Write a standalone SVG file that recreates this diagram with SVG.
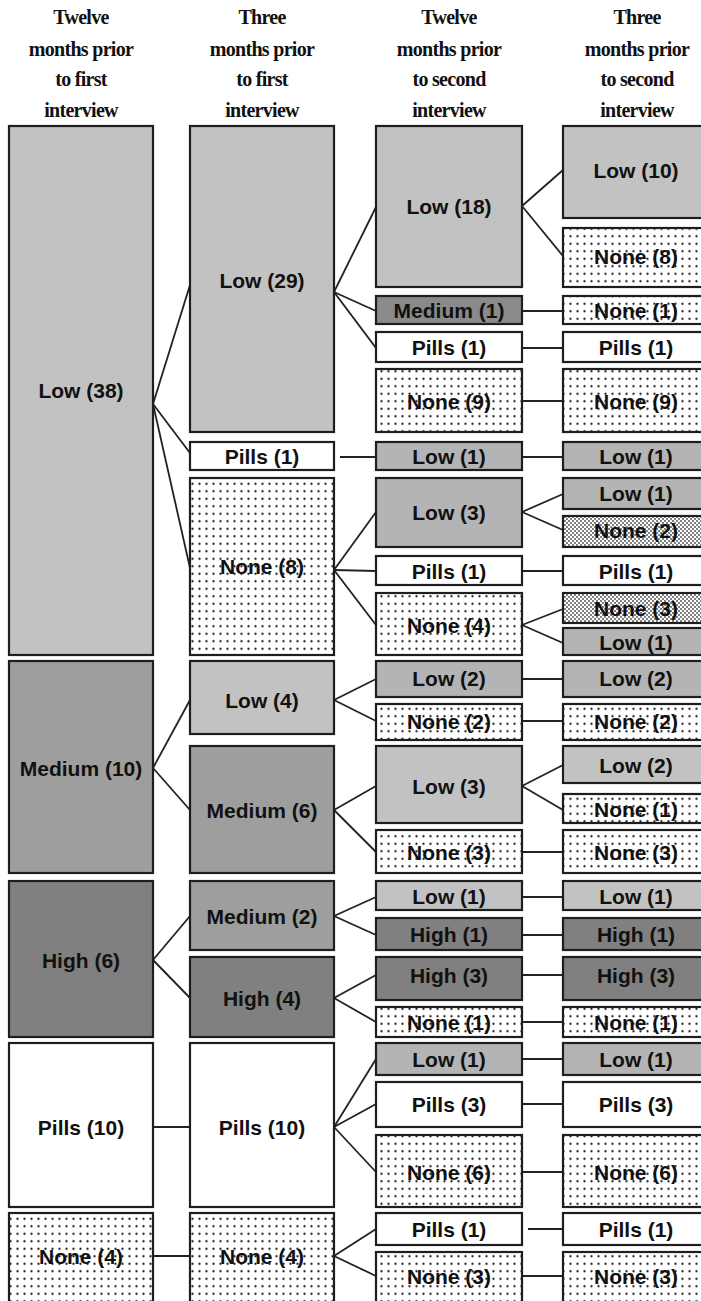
<svg xmlns="http://www.w3.org/2000/svg" width="701" height="1301" viewBox="0 0 701 1301">
  <defs>
    <pattern id="dots" width="7" height="7.5" patternUnits="userSpaceOnUse">
      <rect width="7" height="7.5" fill="#ffffff"/>
      <circle cx="3.5" cy="3.7" r="1.15" fill="#222"/>
    </pattern>
    <pattern id="dense" width="4" height="4" patternUnits="userSpaceOnUse">
      <rect width="4" height="4" fill="#ffffff"/>
      <circle cx="1" cy="1" r="0.9" fill="#444"/>
      <circle cx="3" cy="3" r="0.9" fill="#444"/>
    </pattern>
  </defs>
  <style>
    rect.box { stroke: #1e1e1e; stroke-width: 2.2; }
    .low { fill: #c2c2c2; }
    .low2 { fill: #b4b4b4; }
    .med { fill: #9e9e9e; }
    .med1 { fill: #8a8a8a; }
    .high { fill: #808080; }
    .pills { fill: #ffffff; }
    .none { fill: url(#dots); }
    .none2 { fill: url(#dense); }
    text.lbl { font-family: "Liberation Sans", Arial, sans-serif; font-weight: bold; font-size: 21px; fill: #111; text-anchor: middle; }
    text.hdr { font-family: "Liberation Serif", "Times New Roman", serif; font-weight: bold; font-size: 20px; fill: #111; text-anchor: middle; letter-spacing: -0.7px; }
    .links line { stroke: #222; stroke-width: 1.8; }
  </style>
  <rect width="701" height="1301" fill="#ffffff"/>

  <!-- column headings -->
  <g id="headers">
    <text class="hdr" x="81" y="24">Twelve</text>
    <text class="hdr" x="81" y="56">months prior</text>
    <text class="hdr" x="81" y="86">to first</text>
    <text class="hdr" x="81" y="117">interview</text>
    <text class="hdr" x="262" y="24">Three</text>
    <text class="hdr" x="262" y="56">months prior</text>
    <text class="hdr" x="262" y="86">to first</text>
    <text class="hdr" x="262" y="117">interview</text>
    <text class="hdr" x="449" y="24">Twelve</text>
    <text class="hdr" x="449" y="56">months prior</text>
    <text class="hdr" x="449" y="86">to second</text>
    <text class="hdr" x="449" y="117">interview</text>
    <text class="hdr" x="637" y="24">Three</text>
    <text class="hdr" x="637" y="56">months prior</text>
    <text class="hdr" x="637" y="86">to second</text>
    <text class="hdr" x="637" y="117">interview</text>
  </g>

  <!-- connectors -->
  <g id="connectors" class="links">
    <!-- column 1 to column 2 -->
    <line x1="153" y1="404" x2="190" y2="285"/>
    <line x1="153" y1="404" x2="190" y2="453"/>
    <line x1="153" y1="404" x2="190" y2="568"/>
    <line x1="153" y1="768" x2="190" y2="700"/>
    <line x1="153" y1="768" x2="190" y2="810"/>
    <line x1="153" y1="960" x2="190" y2="916"/>
    <line x1="153" y1="960" x2="190" y2="998"/>
    <line x1="153" y1="1127" x2="190" y2="1127"/>
    <line x1="153" y1="1256" x2="190" y2="1256"/>
    <!-- column 2 to column 3 -->
    <line x1="334" y1="292" x2="376" y2="207"/>
    <line x1="334" y1="292" x2="376" y2="311"/>
    <line x1="334" y1="292" x2="376" y2="348"/>
    <line x1="340" y1="457" x2="376" y2="457"/>
    <line x1="334" y1="570" x2="376" y2="512"/>
    <line x1="334" y1="570" x2="376" y2="571"/>
    <line x1="334" y1="570" x2="376" y2="625"/>
    <line x1="334" y1="700" x2="376" y2="679"/>
    <line x1="334" y1="700" x2="376" y2="721"/>
    <line x1="334" y1="810" x2="376" y2="786"/>
    <line x1="334" y1="810" x2="376" y2="852"/>
    <line x1="334" y1="916" x2="376" y2="897"/>
    <line x1="334" y1="916" x2="376" y2="935"/>
    <line x1="334" y1="998" x2="376" y2="975"/>
    <line x1="334" y1="998" x2="376" y2="1022"/>
    <line x1="334" y1="1127" x2="376" y2="1059"/>
    <line x1="334" y1="1127" x2="376" y2="1104"/>
    <line x1="334" y1="1127" x2="376" y2="1172"/>
    <line x1="334" y1="1256" x2="376" y2="1229"/>
    <line x1="334" y1="1256" x2="376" y2="1276"/>
    <!-- column 3 to column 4 -->
    <line x1="522" y1="206" x2="563" y2="170"/>
    <line x1="522" y1="206" x2="563" y2="256"/>
    <line x1="522" y1="311" x2="563" y2="311"/>
    <line x1="522" y1="348" x2="563" y2="348"/>
    <line x1="522" y1="401" x2="563" y2="401"/>
    <line x1="522" y1="457" x2="563" y2="457"/>
    <line x1="522" y1="512" x2="563" y2="494"/>
    <line x1="522" y1="512" x2="563" y2="530"/>
    <line x1="522" y1="571" x2="563" y2="571"/>
    <line x1="522" y1="625" x2="563" y2="609"/>
    <line x1="522" y1="625" x2="563" y2="643"/>
    <line x1="522" y1="679" x2="563" y2="679"/>
    <line x1="522" y1="721" x2="563" y2="721"/>
    <line x1="522" y1="786" x2="563" y2="765"/>
    <line x1="522" y1="786" x2="563" y2="810"/>
    <line x1="522" y1="852" x2="563" y2="852"/>
    <line x1="522" y1="897" x2="563" y2="897"/>
    <line x1="522" y1="935" x2="563" y2="935"/>
    <line x1="522" y1="975" x2="563" y2="975"/>
    <line x1="522" y1="1022" x2="563" y2="1022"/>
    <line x1="522" y1="1059" x2="563" y2="1059"/>
    <line x1="522" y1="1104" x2="563" y2="1104"/>
    <line x1="522" y1="1172" x2="563" y2="1172"/>
    <line x1="528" y1="1229" x2="563" y2="1229"/>
    <line x1="522" y1="1276" x2="563" y2="1276"/>
  </g>

  <!-- column 1: twelve months prior to first interview -->
  <g id="c1-low38"><rect class="box low" x="9" y="126" width="144" height="529"/><text class="lbl" x="81" y="398">Low (38)</text></g>
  <g id="c1-medium10"><rect class="box med" x="9" y="661" width="144" height="212"/><text class="lbl" x="81" y="776">Medium (10)</text></g>
  <g id="c1-high6"><rect class="box high" x="9" y="881" width="144" height="156"/><text class="lbl" x="81" y="968">High (6)</text></g>
  <g id="c1-pills10"><rect class="box pills" x="9" y="1043" width="144" height="164"/><text class="lbl" x="81" y="1135">Pills (10)</text></g>
  <g id="c1-none4"><rect class="box none" x="9" y="1213" width="144" height="100"/><text class="lbl" x="81" y="1264">None (4)</text></g>

  <!-- column 2: three months prior to first interview -->
  <g id="c2-low29"><rect class="box low" x="190" y="126" width="144" height="306"/><text class="lbl" x="262" y="288">Low (29)</text></g>
  <g id="c2-pills1"><rect class="box pills" x="190" y="442" width="144" height="28"/><text class="lbl" x="262" y="464">Pills (1)</text></g>
  <g id="c2-none8"><rect class="box none" x="190" y="478" width="144" height="177"/><text class="lbl" x="262" y="574">None (8)</text></g>
  <g id="c2-low4"><rect class="box low" x="190" y="661" width="144" height="73"/><text class="lbl" x="262" y="708">Low (4)</text></g>
  <g id="c2-medium6"><rect class="box med" x="190" y="746" width="144" height="127"/><text class="lbl" x="262" y="818">Medium (6)</text></g>
  <g id="c2-medium2"><rect class="box med" x="190" y="881" width="144" height="69"/><text class="lbl" x="262" y="924">Medium (2)</text></g>
  <g id="c2-high4"><rect class="box high" x="190" y="957" width="144" height="80"/><text class="lbl" x="262" y="1006">High (4)</text></g>
  <g id="c2-pills10"><rect class="box pills" x="190" y="1043" width="144" height="164"/><text class="lbl" x="262" y="1135">Pills (10)</text></g>
  <g id="c2-none4"><rect class="box none" x="190" y="1213" width="144" height="100"/><text class="lbl" x="262" y="1264">None (4)</text></g>

  <!-- column 3: twelve months prior to second interview -->
  <g id="c3-low18"><rect class="box low" x="376" y="126" width="146" height="161"/><text class="lbl" x="449" y="214">Low (18)</text></g>
  <g id="c3-medium1"><rect class="box med1" x="376" y="296" width="146" height="28"/><text class="lbl" x="449" y="318">Medium (1)</text></g>
  <g id="c3-pills1a"><rect class="box pills" x="376" y="332" width="146" height="30"/><text class="lbl" x="449" y="355">Pills (1)</text></g>
  <g id="c3-none9"><rect class="box none" x="376" y="369" width="146" height="63"/><text class="lbl" x="449" y="409">None (9)</text></g>
  <g id="c3-low1a"><rect class="box low2" x="376" y="442" width="146" height="28"/><text class="lbl" x="449" y="464">Low (1)</text></g>
  <g id="c3-low3a"><rect class="box low2" x="376" y="478" width="146" height="69"/><text class="lbl" x="449" y="520">Low (3)</text></g>
  <g id="c3-pills1b"><rect class="box pills" x="376" y="556" width="146" height="29"/><text class="lbl" x="449" y="579">Pills (1)</text></g>
  <g id="c3-none4"><rect class="box none" x="376" y="593" width="146" height="62"/><text class="lbl" x="449" y="633">None (4)</text></g>
  <g id="c3-low2"><rect class="box low2" x="376" y="661" width="146" height="36"/><text class="lbl" x="449" y="686">Low (2)</text></g>
  <g id="c3-none2"><rect class="box none" x="376" y="704" width="146" height="36"/><text class="lbl" x="449" y="729">None (2)</text></g>
  <g id="c3-low3b"><rect class="box low" x="376" y="746" width="146" height="77"/><text class="lbl" x="449" y="794">Low (3)</text></g>
  <g id="c3-none3a"><rect class="box none" x="376" y="830" width="146" height="43"/><text class="lbl" x="449" y="860">None (3)</text></g>
  <g id="c3-low1b"><rect class="box low" x="376" y="881" width="146" height="29"/><text class="lbl" x="449" y="904">Low (1)</text></g>
  <g id="c3-high1"><rect class="box high" x="376" y="918" width="146" height="32"/><text class="lbl" x="449" y="942">High (1)</text></g>
  <g id="c3-high3"><rect class="box high" x="376" y="957" width="146" height="43"/><text class="lbl" x="449" y="983">High (3)</text></g>
  <g id="c3-none1"><rect class="box none" x="376" y="1007" width="146" height="30"/><text class="lbl" x="449" y="1030">None (1)</text></g>
  <g id="c3-low1c"><rect class="box low2" x="376" y="1043" width="146" height="32"/><text class="lbl" x="449" y="1067">Low (1)</text></g>
  <g id="c3-pills3"><rect class="box pills" x="376" y="1082" width="146" height="45"/><text class="lbl" x="449" y="1112">Pills (3)</text></g>
  <g id="c3-none6"><rect class="box none" x="376" y="1135" width="146" height="72"/><text class="lbl" x="449" y="1180">None (6)</text></g>
  <g id="c3-pills1c"><rect class="box pills" x="376" y="1213" width="146" height="32"/><text class="lbl" x="449" y="1237">Pills (1)</text></g>
  <g id="c3-none3b"><rect class="box none" x="376" y="1252" width="146" height="60"/><text class="lbl" x="449" y="1284">None (3)</text></g>

  <!-- column 4: three months prior to second interview -->
  <g id="c4-low10"><rect class="box low" x="563" y="126" width="146" height="92"/><text class="lbl" x="636" y="178">Low (10)</text></g>
  <g id="c4-none8"><rect class="box none" x="563" y="228" width="146" height="59"/><text class="lbl" x="636" y="264">None (8)</text></g>
  <g id="c4-none1a"><rect class="box none" x="563" y="296" width="146" height="28"/><text class="lbl" x="636" y="318">None (1)</text></g>
  <g id="c4-pills1a"><rect class="box pills" x="563" y="332" width="146" height="30"/><text class="lbl" x="636" y="355">Pills (1)</text></g>
  <g id="c4-none9"><rect class="box none" x="563" y="369" width="146" height="63"/><text class="lbl" x="636" y="409">None (9)</text></g>
  <g id="c4-low1a"><rect class="box low2" x="563" y="442" width="146" height="28"/><text class="lbl" x="636" y="464">Low (1)</text></g>
  <g id="c4-low1b"><rect class="box low2" x="563" y="478" width="146" height="31"/><text class="lbl" x="636" y="501">Low (1)</text></g>
  <g id="c4-none2a"><rect class="box none2" x="563" y="516" width="146" height="31"/><text class="lbl" x="636" y="538">None (2)</text></g>
  <g id="c4-pills1b"><rect class="box pills" x="563" y="556" width="146" height="29"/><text class="lbl" x="636" y="579">Pills (1)</text></g>
  <g id="c4-none3a"><rect class="box none2" x="563" y="593" width="146" height="30"/><text class="lbl" x="636" y="616">None (3)</text></g>
  <g id="c4-low1c"><rect class="box low2" x="563" y="628" width="146" height="27"/><text class="lbl" x="636" y="650">Low (1)</text></g>
  <g id="c4-low2a"><rect class="box low2" x="563" y="661" width="146" height="36"/><text class="lbl" x="636" y="686">Low (2)</text></g>
  <g id="c4-none2b"><rect class="box none" x="563" y="704" width="146" height="36"/><text class="lbl" x="636" y="729">None (2)</text></g>
  <g id="c4-low2b"><rect class="box low" x="563" y="746" width="146" height="37"/><text class="lbl" x="636" y="773">Low (2)</text></g>
  <g id="c4-none1b"><rect class="box none" x="563" y="794" width="146" height="29"/><text class="lbl" x="636" y="817">None (1)</text></g>
  <g id="c4-none3b"><rect class="box none" x="563" y="830" width="146" height="43"/><text class="lbl" x="636" y="860">None (3)</text></g>
  <g id="c4-low1d"><rect class="box low" x="563" y="881" width="146" height="29"/><text class="lbl" x="636" y="904">Low (1)</text></g>
  <g id="c4-high1"><rect class="box high" x="563" y="918" width="146" height="32"/><text class="lbl" x="636" y="942">High (1)</text></g>
  <g id="c4-high3"><rect class="box high" x="563" y="957" width="146" height="43"/><text class="lbl" x="636" y="983">High (3)</text></g>
  <g id="c4-none1c"><rect class="box none" x="563" y="1007" width="146" height="30"/><text class="lbl" x="636" y="1030">None (1)</text></g>
  <g id="c4-low1e"><rect class="box low2" x="563" y="1043" width="146" height="32"/><text class="lbl" x="636" y="1067">Low (1)</text></g>
  <g id="c4-pills3"><rect class="box pills" x="563" y="1082" width="146" height="45"/><text class="lbl" x="636" y="1112">Pills (3)</text></g>
  <g id="c4-none6"><rect class="box none" x="563" y="1135" width="146" height="72"/><text class="lbl" x="636" y="1180">None (6)</text></g>
  <g id="c4-pills1c"><rect class="box pills" x="563" y="1213" width="146" height="32"/><text class="lbl" x="636" y="1237">Pills (1)</text></g>
  <g id="c4-none3c"><rect class="box none" x="563" y="1252" width="146" height="60"/><text class="lbl" x="636" y="1284">None (3)</text></g>
</svg>
